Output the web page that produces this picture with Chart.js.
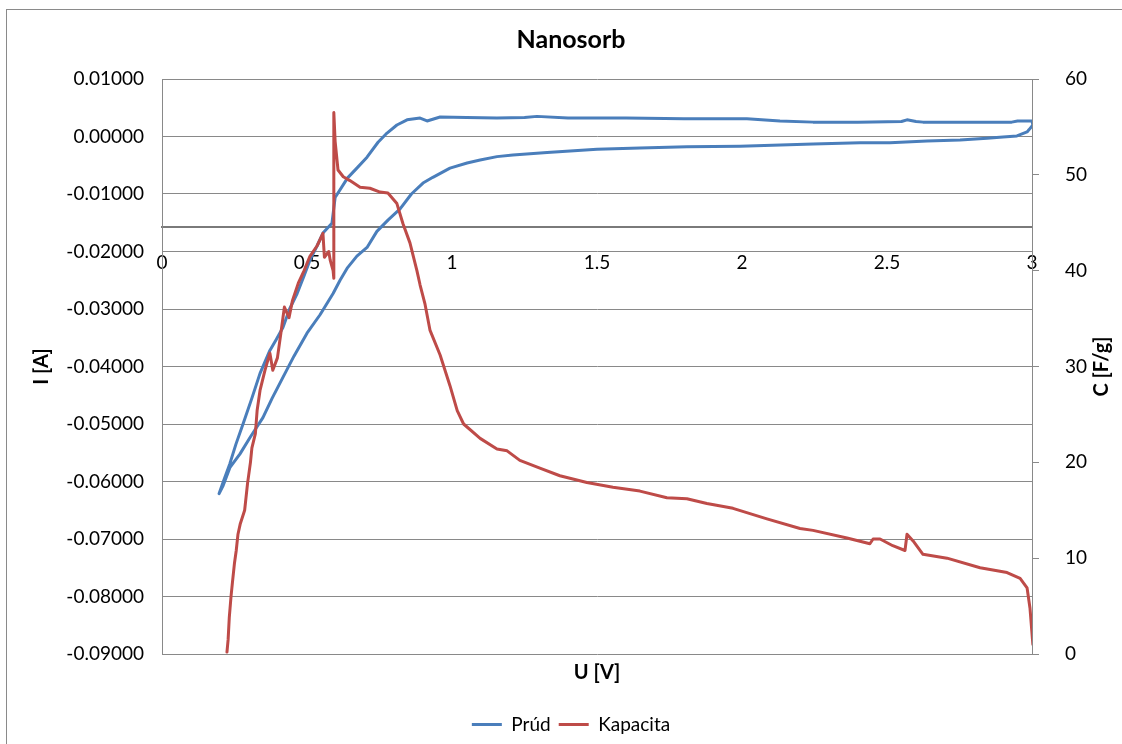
<!DOCTYPE html>
<html>
<head>
<meta charset="utf-8">
<title>Nanosorb</title>
<script src="https://cdn.jsdelivr.net/npm/chart.js@4.4.1/dist/chart.umd.min.js"></script>
<style>
    html, body { margin: 0; padding: 0; background: #fff; }
    #wrap { width: 1122px; height: 744px; }
</style>
</head>
<body>
<div id="wrap"><canvas id="chart"></canvas></div>
<script>
// Prúd - napätie [V] a prúd [A]
const prudU = [
    0.197, 0.215, 0.234, 0.255, 0.280, 0.310, 0.338, 0.372, 0.395, 0.417,
    0.440, 0.466, 0.490, 0.510, 0.535, 0.555, 0.586,
    0.597, 0.640, 0.672, 0.707, 0.745, 0.776, 0.810, 0.845, 0.890, 0.914,
    0.959, 1.050, 1.155, 1.250, 1.293, 1.400, 1.600, 1.800, 2.017, 2.131,
    2.245, 2.400, 2.550, 2.569, 2.600, 2.624, 2.800, 2.930, 2.950, 3.000,
    3.003, 2.990, 2.983, 2.948, 2.900, 2.845, 2.752, 2.638, 2.510, 2.407,
    2.245, 1.993, 1.810, 1.648, 1.500, 1.328, 1.210, 1.155, 1.097, 1.052,
    0.993, 0.934, 0.900, 0.860, 0.821, 0.780, 0.741, 0.707, 0.672, 0.640,
    0.614, 0.590, 0.545, 0.500, 0.455, 0.417, 0.380, 0.348, 0.303, 0.269,
    0.234, 0.210, 0.197
];
const prudI = [
    -0.0621, -0.0595, -0.0569, -0.0535, -0.0499, -0.0455, -0.0412, -0.0372, -0.0352, -0.0332,
    -0.0300, -0.0273, -0.0242, -0.0215, -0.0190, -0.0168, -0.0151,
    -0.0106, -0.0072, -0.0055, -0.0036, -0.0010, 0.0006, 0.0020, 0.0029, 0.0032, 0.0027,
    0.0034, 0.0033, 0.0032, 0.0033, 0.0035, 0.0032, 0.0032, 0.0031, 0.0031, 0.0027,
    0.0025, 0.0025, 0.0026, 0.0029, 0.0026, 0.0025, 0.0025, 0.0025, 0.0027, 0.0027,
    0.0020, 0.0012, 0.0008, 0.0001, -0.0001, -0.0003, -0.0006, -0.0008, -0.0011, -0.0011,
    -0.0013, -0.0017, -0.0018, -0.0020, -0.0022, -0.0028, -0.0032, -0.0035, -0.0041, -0.0046,
    -0.0055, -0.0071, -0.0081, -0.0100, -0.0126, -0.0145, -0.0165, -0.0193, -0.0208, -0.0228,
    -0.0250, -0.0273, -0.0310, -0.0342, -0.0382, -0.0419, -0.0455, -0.0489, -0.0524, -0.0552,
    -0.0576, -0.0608, -0.0621
];

// Kapacita - napätie [V] a kapacita [F/g]
const kapU = [
    0.224, 0.228, 0.232, 0.238, 0.243, 0.250, 0.256, 0.262, 0.270, 0.285,
    0.295, 0.305, 0.310, 0.322, 0.328, 0.338, 0.355, 0.372, 0.382, 0.398,
    0.410, 0.422, 0.438, 0.450, 0.470, 0.490, 0.510, 0.535, 0.555, 0.560,
    0.575, 0.580, 0.590, 0.592, 0.593, 0.597, 0.607, 0.625, 0.648, 0.683,
    0.717, 0.752, 0.779, 0.810, 0.831, 0.855, 0.879, 0.890, 0.907, 0.924,
    0.959, 0.993, 1.018, 1.040, 1.097, 1.155, 1.190, 1.234, 1.303, 1.372,
    1.465, 1.555, 1.648, 1.741, 1.810, 1.879, 1.969, 2.086, 2.200, 2.245,
    2.362, 2.441, 2.452, 2.476, 2.520, 2.562, 2.569, 2.590, 2.624, 2.707,
    2.821, 2.914, 2.959, 2.983, 2.993, 3.003
];
const kapC = [
    0.2, 1.5, 3.8, 6.0, 7.5, 9.5, 10.8, 12.5, 13.6, 15.0,
    17.8, 20.0, 21.5, 23.0, 25.4, 27.5, 29.6, 31.4, 29.6, 30.9,
    33.5, 36.2, 35.1, 36.9, 38.7, 40.0, 41.5, 42.6, 43.9, 41.4,
    42.0, 41.1, 40.0, 39.2, 56.5, 53.5, 50.5, 49.8, 49.4, 48.7,
    48.6, 48.2, 48.1, 47.0, 44.9, 42.9, 40.0, 38.5, 36.5, 33.8,
    31.2, 28.0, 25.4, 24.0, 22.5, 21.4, 21.2, 20.2, 19.4, 18.6,
    17.9, 17.4, 17.0, 16.3, 16.2, 15.7, 15.2, 14.1, 13.1, 12.9,
    12.1, 11.5, 12.0, 12.0, 11.3, 10.8, 12.5, 11.8, 10.4, 10.0,
    9.0, 8.5, 7.9, 6.9, 4.8, 1.0
];

// osi
const xTicks = [0, 0.5, 1, 1.5, 2, 2.5, 3];
const yTicks = [-0.09, -0.08, -0.07, -0.06, -0.05, -0.04, -0.03, -0.02, -0.01, 0, 0.01];
const y1Ticks = [0, 10, 20, 30, 40, 50, 60];

const FONT = 'Lato, "Noto Sans", sans-serif';
const GRID = '#898989';

function toPoints(xs, ys) {
    return xs.map((x, i) => ({ x: x, y: ys[i] }));
}

// pozadie, rám grafu a názov pravej osi (čítaný zdola nahor ako v Exceli)
const excelLook = {
    id: 'excelLook',
    beforeDraw(chart) {
        const ctx = chart.ctx;
        ctx.save();
        ctx.fillStyle = '#ffffff';
        ctx.fillRect(0, 0, chart.width, chart.height);
        ctx.strokeStyle = '#8a8a8a';
        ctx.lineWidth = 1;
        ctx.strokeRect(6.5, 9.5, chart.width + 20, chart.height + 20);
        ctx.restore();
    },
    afterDraw(chart) {
        const a = chart.chartArea;
        const ctx = chart.ctx;
        ctx.save();
        ctx.translate(1102, (a.top + a.bottom) / 2);
        ctx.rotate(-Math.PI / 2);
        ctx.font = 'bold 20px ' + FONT;
        ctx.fillStyle = '#000';
        ctx.textAlign = 'center';
        ctx.textBaseline = 'middle';
        ctx.fillText('C [F/g]', 0, 0);
        ctx.restore();
    }
};

document.addEventListener('DOMContentLoaded', function() {
    const ctx = document.getElementById('chart');

    new Chart(ctx, {
        type: 'scatter',
        data: {
            datasets: [{
                label: 'Prúd',
                data: toPoints(prudU, prudI),
                showLine: true,
                borderColor: '#4a7ebb',
                backgroundColor: '#4a7ebb',
                borderWidth: 3,
                pointRadius: 0,
                borderJoinStyle: 'round',
                borderCapStyle: 'round',
                yAxisID: 'y',
                order: 1
            }, {
                label: 'Kapacita',
                data: toPoints(kapU, kapC),
                showLine: true,
                borderColor: '#be4b48',
                backgroundColor: '#be4b48',
                borderWidth: 3,
                pointRadius: 0,
                borderJoinStyle: 'round',
                borderCapStyle: 'round',
                yAxisID: 'y1',
                order: 0
            }]
        },
        options: {
            responsive: true,
            maintainAspectRatio: false,
            animation: false,
            layout: {
                padding: { left: 20, right: 0, top: 0, bottom: 0 }
            },
            plugins: {
                title: {
                    display: true,
                    text: 'Nanosorb',
                    color: '#000',
                    font: { family: FONT, size: 25, weight: 'bold' },
                    padding: { top: 25, bottom: 24 }
                },
                legend: {
                    position: 'bottom',
                    labels: {
                        color: '#000',
                        font: { family: FONT, size: 19 },
                        usePointStyle: true,
                        pointStyle: 'line',
                        pointStyleWidth: 30,
                        padding: 8,
                        sort: (a, b) => a.datasetIndex - b.datasetIndex
                    }
                },
                tooltip: { enabled: false }
            },
            scales: {
                x: {
                    type: 'linear',
                    min: 0,
                    max: 3,
                    position: { y: -0.0157 },
                    afterBuildTicks: function(scale) {
                        scale.ticks = xTicks.map(v => ({ value: v }));
                    },
                    grid: { display: false },
                    border: { display: true, color: '#7a7a7a', width: 2 },
                    ticks: {
                        color: '#000',
                        font: { family: FONT, size: 19 },
                        padding: 17,
                        maxRotation: 0,
                        callback: function(value) {
                            return String(value);
                        }
                    }
                },
                xTitle: {
                    type: 'linear',
                    axis: 'x',
                    position: 'bottom',
                    min: 0,
                    max: 3,
                    afterFit: function(scale) {
                        scale.height = 53;
                    },
                    grid: { display: false },
                    border: { display: false },
                    ticks: { display: false },
                    title: {
                        display: true,
                        text: 'U [V]',
                        color: '#000',
                        font: { family: FONT, size: 20, weight: 'bold' },
                        padding: { top: 7, bottom: 22 }
                    }
                },
                y: {
                    type: 'linear',
                    position: 'left',
                    min: -0.09,
                    max: 0.01,
                    afterBuildTicks: function(scale) {
                        scale.ticks = yTicks.map(v => ({ value: v }));
                    },
                    afterFit: function(scale) {
                        scale.width = 142;
                    },
                    grid: { color: GRID, drawTicks: false },
                    border: { color: GRID },
                    ticks: {
                        color: '#000',
                        font: { family: FONT, size: 19 },
                        padding: 18,
                        callback: function(value) {
                            const v = Math.abs(value) < 1e-9 ? 0 : value;
                            return v.toFixed(5);
                        }
                    },
                    title: {
                        display: true,
                        text: 'I [A]',
                        color: '#000',
                        font: { family: FONT, size: 20, weight: 'bold' },
                        padding: { top: 10, bottom: 0 }
                    }
                },
                y1: {
                    type: 'linear',
                    position: 'right',
                    min: 0,
                    max: 60,
                    afterBuildTicks: function(scale) {
                        scale.ticks = y1Ticks.map(v => ({ value: v }));
                    },
                    afterFit: function(scale) {
                        scale.width = 90;
                    },
                    grid: { drawOnChartArea: false, color: GRID, tickLength: 7 },
                    border: { color: GRID },
                    ticks: {
                        color: '#000',
                        font: { family: FONT, size: 19 },
                        padding: 26
                    }
                }
            }
        },
        plugins: [excelLook]
    });
});
</script>
</body>
</html>
